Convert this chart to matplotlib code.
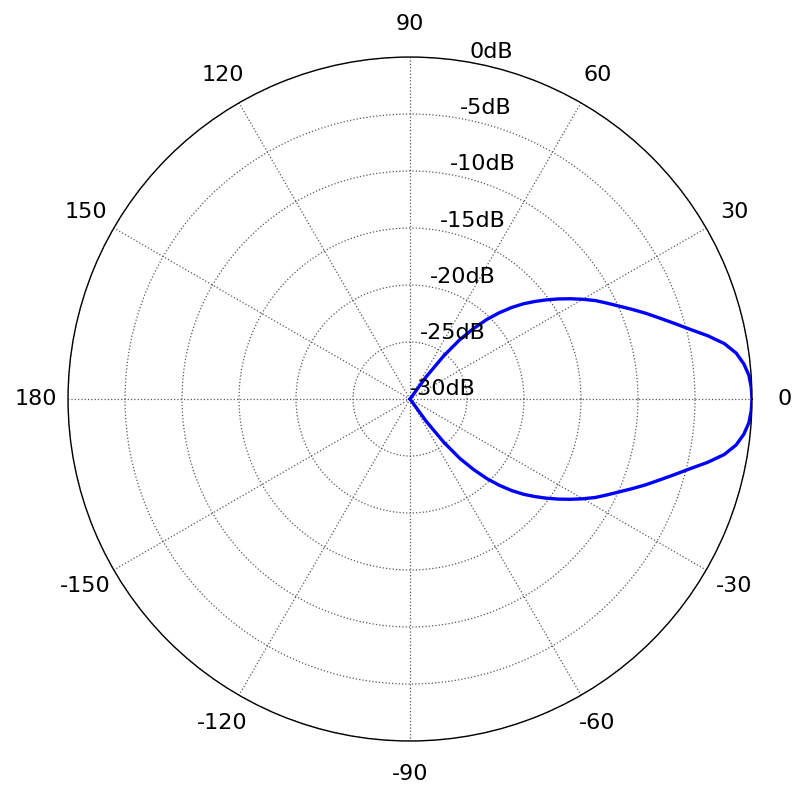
import numpy as np
import matplotlib.pyplot as plt

# beam pattern, degrees / dB (symmetric)
half_angles = [0, 2, 4, 6, 8, 10, 12, 14, 16, 18, 20, 22, 24, 26, 28, 30, 32, 34, 36, 38,
               40, 42, 44, 46, 48, 50, 52, 54, 56, 60, 90, 120, 150, 180]
half_db = [0, -0.05, -0.2, -0.55, -1.1, -2.0, -3.3, -4.7, -5.9, -7.0, -8.0, -9.0, -9.95, -10.8,
           -11.6, -12.5, -13.4, -14.3, -15.2, -16.1, -17.0, -18.0, -19.1, -20.3, -21.7, -23.2,
           -25.2, -27.6, -30, -30, -30, -30, -30, -30]

theta_ticks = [0, 30, 60, 90, 120, 150, 180, 210, 240, 270, 300, 330]
theta_labels = ['0', '30', '60', '90', '120', '150', '180', '-150', '-120', '-90', '-60', '-30']
r_ticks = [-30, -25, -20, -15, -10, -5, 0]
r_labels = ['-30dB', '-25dB', '-20dB', '-15dB', '-10dB', '-5dB', '0dB']

angles = np.array([-a for a in half_angles[::-1]] + half_angles[1:])
db = np.array(half_db[::-1] + half_db[1:])

fig = plt.figure(figsize=(8, 7.91), dpi=100)
ax = fig.add_axes([0.085, 0.0632, 0.855, 0.8647], projection='polar')

ax.plot(np.radians(angles), db, color='#0000ff', linewidth=2.4)
ax.set_rlim(-30, 0)

ax.set_thetagrids(theta_ticks, labels=theta_labels, fontsize=16)
ax.tick_params(axis='x', pad=13)
ax.set_rticks(r_ticks)
ax.set_yticklabels([])
for r, lab in zip(r_ticks, r_labels):
    ax.text(np.radians(80), r, lab, ha='left', va='bottom', fontsize=16)

ax.grid(True, linestyle=':', color='0.35', linewidth=0.9)
ax.spines['polar'].set_color('k')
ax.spines['polar'].set_linewidth(1.0)

fig.savefig('out.png', dpi=100)
